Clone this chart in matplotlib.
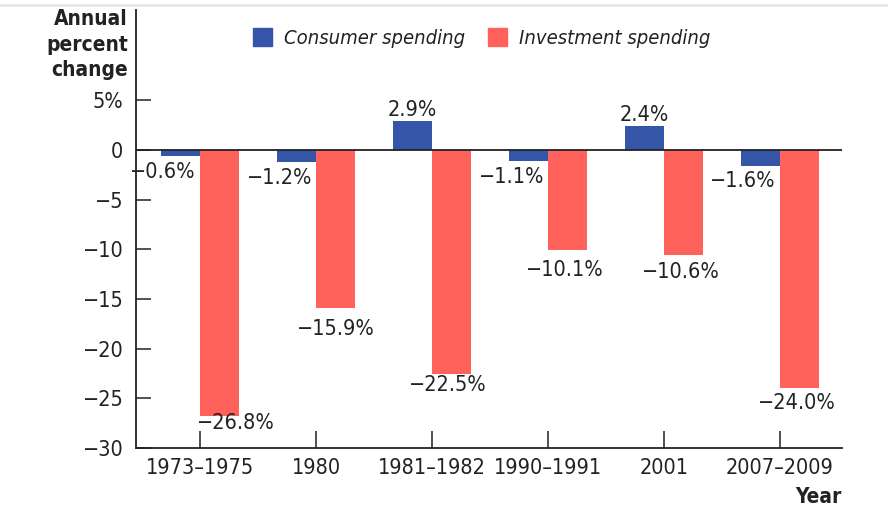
import matplotlib
matplotlib.use("Agg")
import numpy as np
from matplotlib import pyplot as plt
from matplotlib import font_manager
from matplotlib.lines import Line2D

# ---------------------------------------------------------------------------
# Data: consumer vs investment spending during recessions
# ---------------------------------------------------------------------------
periods = ["1973–1975", "1980", "1981–1982", "1990–1991", "2001", "2007–2009"]
consumer = [-0.6, -1.2, 2.9, -1.1, 2.4, -1.6]
investment = [-26.8, -15.9, -22.5, -10.1, -10.6, -24.0]
y_ticks = [5, 0, -5, -10, -15, -20, -25, -30]
y_tick_labels = ["5%", "0", "−5", "−10", "−15", "−20", "−25", "−30"]

BLUE = "#3556a8"
RED = "#fe625b"
INK = "#222222"

# a narrow face suits the original better; use it only if it is there
condensed = any(f.name == "DejaVu Sans" and f.stretch == "condensed"
                for f in font_manager.fontManager.ttflist)
plt.rcParams["font.family"] = ["DejaVu Sans"]
if condensed:
    plt.rcParams["font.stretch"] = "condensed"
    FS, FS_T, FS_L = 15.5, 15, 14.5
else:
    FS, FS_T, FS_L = 13, 14, 12.5

fig = plt.figure(figsize=(8.88, 5.25), dpi=100)
ax = fig.add_axes([136 / 888, 1 - 448 / 525, (842 - 136) / 888, (448 - 10) / 525])

x = np.arange(len(periods))
w = 0.336
ax.bar(x, consumer, width=-w, align="edge", color=BLUE, zorder=2)
ax.bar(x, investment, width=w, align="edge", color=RED, zorder=2)

ax.set_xlim(-0.552, 5.534)
ax.set_ylim(-30, 14.1)
ax.axhline(0, color=INK, lw=1.3, zorder=3)

for s in ("top", "right"):
    ax.spines[s].set_visible(False)
for s in ("left", "bottom"):
    ax.spines[s].set_color(INK)
    ax.spines[s].set_linewidth(1.3)

ax.set_xticks(x)
ax.set_xticklabels(periods)
ax.set_yticks(y_ticks)
ax.set_yticklabels(y_tick_labels)
ax.tick_params(axis="x", direction="in", length=12, width=1.1, color=INK,
               labelsize=FS, labelcolor=INK, pad=7)
ax.tick_params(axis="y", direction="in", length=11, width=1.1, color=INK,
               labelsize=FS, labelcolor=INK, pad=9)

# value labels
for xi, v in zip(x, consumer):
    if v >= 0:
        ax.annotate(f"{v:.1f}%", (xi - w / 2, v), xytext=(0, 1),
                    textcoords="offset points", ha="center", va="bottom",
                    fontsize=FS, color=INK)
    else:
        ax.annotate(f"−{abs(v):.1f}%", (xi, v), xytext=(-3, -4),
                    textcoords="offset points", ha="right", va="top",
                    fontsize=FS, color=INK)

inv_dx = [12, 0, -3, -2, -2, -2]
inv_dy = [2, -8, -1, -7, -5, -3]
for xi, v, dx, dy in zip(x, investment, inv_dx, inv_dy):
    ax.annotate(f"−{abs(v):.1f}%", (xi + w / 2, v), xytext=(dx, dy),
                textcoords="offset points", ha="center", va="top",
                fontsize=FS, color=INK)

# axis titles
fig.text(128 / 888, 1 - 9 / 525, "Annual\npercent\nchange", ha="right", va="top",
         fontsize=FS_T, fontweight="bold", color=INK, linespacing=1.35)
fig.text(842 / 888, 1 - 497 / 525, "Year", ha="right", va="center",
         fontsize=FS_T, fontweight="bold", color=INK)

# legend
ax.legend(
    handles=[plt.Rectangle((0, 0), 1, 1, color=BLUE),
             plt.Rectangle((0, 0), 1, 1, color=RED)],
    labels=["Consumer spending", "Investment spending"],
    loc="center left", bbox_to_anchor=(235 / 888, 1 - 38 / 525),
    bbox_transform=fig.transFigure, ncol=2, frameon=False,
    prop={"size": FS_L, "style": "italic"}, handlelength=0.95, handleheight=0.95,
    handletextpad=0.6, columnspacing=1.1, labelcolor=INK,
)

fig.add_artist(Line2D([0, 1], [1 - 5 / 525] * 2, color="#e6e6e6", lw=2))

fig.savefig("out.png", dpi=100)
